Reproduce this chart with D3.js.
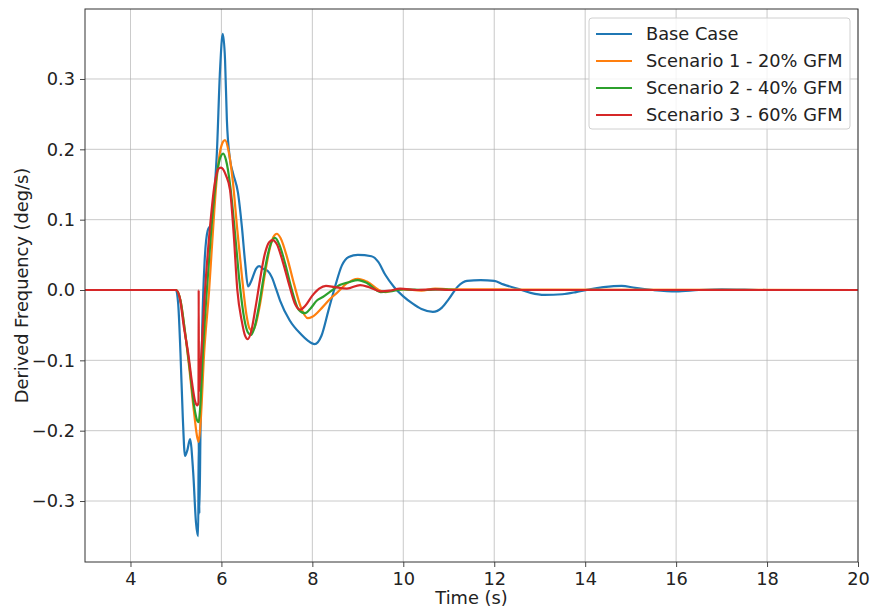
<!DOCTYPE html>
<html>
<head>
<meta charset="utf-8">
<script src="https://cdn.jsdelivr.net/npm/d3@7"></script>
<style>
  body { margin: 0; background: #fff; }
  text { font-family: "DejaVu Sans", sans-serif; fill: #222; }
</style>
</head>
<body>
<div id="chart"></div>
<script>
// data: time (s) and derived frequency (deg/s)
var base_t = [3, 5.0, 5.05, 5.1, 5.15, 5.2, 5.25, 5.31, 5.38, 5.44, 5.49, 5.50, 5.515, 5.54, 5.58, 5.63, 5.70, 5.76, 5.815, 5.86, 5.90, 5.97, 6.03, 6.08, 6.12, 6.19, 6.255, 6.365, 6.45, 6.52, 6.585, 6.67, 6.76, 6.83, 6.92, 7.02, 7.11, 7.2, 7.29, 7.5, 7.75, 7.9, 8.05, 8.2, 8.35, 8.5, 8.65, 8.8, 9.0, 9.3, 9.45, 9.6, 9.8, 10.0, 10.2, 10.4, 10.65, 10.85, 11.0, 11.2, 11.4, 11.7, 12.0, 12.2, 12.5, 12.8, 13.1, 13.5, 13.8, 14.1, 14.4, 14.8, 15.1, 15.5, 16.0, 16.5, 17.0, 17.5, 18.0, 20];
var base_v = [0, 0, -0.02, -0.09, -0.18, -0.236, -0.228, -0.212, -0.26, -0.33, -0.350, -0.212, -0.318, -0.20, -0.05, 0.04, 0.085, 0.092, 0.104, 0.15, 0.195, 0.313, 0.364, 0.327, 0.242, 0.185, 0.166, 0.138, 0.09, 0.04, 0.005, 0.015, 0.03, 0.034, 0.03, 0.027, 0.018, 0.002, -0.015, -0.043, -0.063, -0.072, -0.077, -0.065, -0.03, 0.005, 0.035, 0.047, 0.05, 0.048, 0.04, 0.022, 0.004, -0.009, -0.019, -0.027, -0.031, -0.025, -0.013, 0.005, 0.013, 0.014, 0.013, 0.008, 0.002, -0.004, -0.007, -0.006, -0.003, 0.001, 0.004, 0.006, 0.003, 0.0, -0.002, 0, 0.001, 0.0005, 0, 0];

var s1_t = [3, 5.0, 5.1, 5.2, 5.3, 5.4, 5.47, 5.5, 5.54, 5.62, 5.73, 5.8, 5.9, 6.0, 6.08, 6.15, 6.25, 6.35, 6.45, 6.55, 6.62, 6.68, 6.75, 6.85, 6.95, 7.05, 7.14, 7.22, 7.3, 7.45, 7.6, 7.75, 7.9, 8.0, 8.23, 8.4, 8.54, 8.75, 9.0, 9.2, 9.5, 9.6, 9.8, 10.0, 10.4, 10.7, 11.0, 20];
var s1_v = [0, 0, -0.015, -0.06, -0.115, -0.175, -0.21, -0.216, -0.19, -0.09, 0.0, 0.07, 0.16, 0.205, 0.213, 0.2, 0.155, 0.085, 0.02, -0.035, -0.055, -0.058, -0.05, -0.02, 0.02, 0.055, 0.075, 0.080, 0.074, 0.045, 0.008, -0.025, -0.040, -0.038, -0.024, -0.012, -0.004, 0.009, 0.016, 0.012, -0.001, -0.003, 0.0, 0.001, -0.001, 0.002, 0.001, 0];

var s2_t = [3, 5.0, 5.1, 5.2, 5.3, 5.4, 5.47, 5.5, 5.53, 5.6, 5.68, 5.77, 5.87, 5.96, 6.04, 6.1, 6.2, 6.3, 6.4, 6.5, 6.58, 6.65, 6.72, 6.82, 6.92, 7.02, 7.1, 7.18, 7.27, 7.4, 7.55, 7.7, 7.84, 7.95, 8.1, 8.23, 8.4, 8.6, 8.8, 9.0, 9.2, 9.5, 9.7, 10.0, 10.5, 10.8, 11.2, 20];
var s2_v = [0, 0, -0.015, -0.06, -0.11, -0.165, -0.186, -0.188, -0.17, -0.08, 0.0, 0.08, 0.15, 0.185, 0.194, 0.185, 0.145, 0.08, 0.01, -0.04, -0.06, -0.064, -0.055, -0.025, 0.015, 0.05, 0.068, 0.074, 0.065, 0.038, 0.0, -0.028, -0.033, -0.027, -0.015, -0.01, -0.002, 0.007, 0.011, 0.014, 0.01, -0.003, -0.002, 0.001, 0.0, 0.001, 0, 0];

var s3_t = [3, 5.0, 5.08, 5.18, 5.27, 5.35, 5.42, 5.47, 5.496, 5.50, 5.505, 5.55, 5.64, 5.75, 5.85, 5.93, 5.99, 6.1, 6.19, 6.27, 6.35, 6.45, 6.52, 6.58, 6.65, 6.75, 6.85, 6.95, 7.05, 7.13, 7.22, 7.35, 7.5, 7.62, 7.73, 7.85, 8.0, 8.15, 8.3, 8.5, 8.76, 9.05, 9.25, 9.5, 9.7, 9.93, 10.3, 10.7, 11.0, 20];
var s3_v = [0, 0, -0.01, -0.055, -0.09, -0.13, -0.158, -0.164, -0.16, 0.0, -0.145, -0.10, 0.0, 0.09, 0.15, 0.172, 0.174, 0.163, 0.142, 0.08, 0.0, -0.045, -0.065, -0.07, -0.06, -0.025, 0.015, 0.05, 0.068, 0.071, 0.065, 0.04, 0.005, -0.02, -0.028, -0.022, -0.008, 0.002, 0.006, 0.004, 0.002, 0.007, 0.004, -0.002, -0.001, 0.002, 0.0, 0.001, 0, 0];

var series_names = ["Base Case", "Scenario 1 - 20% GFM", "Scenario 2 - 40% GFM", "Scenario 3 - 60% GFM"];
var series_colors = ["#1f77b4", "#ff7f0e", "#2ca02c", "#d62728"];
var x_ticks = [4, 6, 8, 10, 12, 14, 16, 18, 20];
var y_ticks = [-0.3, -0.2, -0.1, 0.0, 0.1, 0.2, 0.3];

var w = 873, h = 609;
var m_left = 85, m_right = 858, m_top = 9, m_bottom = 562;
var fs = 17.8;

var svg = d3.select("#chart").append("svg")
  .attr("width", w).attr("height", h);

var x = d3.scaleLinear().domain([3, 20]).range([m_left, m_right]);
var y = d3.scaleLinear().domain([-0.3867, 0.3995]).range([m_bottom, m_top]);

// grid
svg.append("g").selectAll("line").data(x_ticks).enter().append("line")
  .attr("x1", function(d){return x(d);}).attr("x2", function(d){return x(d);})
  .attr("y1", m_top).attr("y2", m_bottom)
  .attr("stroke", "#b0b0b0").attr("stroke-width", 0.9).attr("opacity", 0.75);
svg.append("g").selectAll("line").data(y_ticks).enter().append("line")
  .attr("y1", function(d){return y(d);}).attr("y2", function(d){return y(d);})
  .attr("x1", m_left).attr("x2", m_right)
  .attr("stroke", "#b0b0b0").attr("stroke-width", 0.9).attr("opacity", 0.75);

// lines
svg.append("clipPath").attr("id", "clip").append("rect")
  .attr("x", m_left).attr("y", m_top).attr("width", m_right - m_left).attr("height", m_bottom - m_top);

var all_t = [base_t, s1_t, s2_t, s3_t];
var all_v = [base_v, s1_v, s2_v, s3_v];
var line = d3.line()
  .x(function(d){return x(d[0]);})
  .y(function(d){return y(d[1]);})
  .curve(d3.curveMonotoneX);

var plot = svg.append("g").attr("clip-path", "url(#clip)");
for (var i = 0; i < 4; i++) {
  var pts = all_t[i].map(function(t, j){return [t, all_v[i][j]];});
  plot.append("path").datum(pts)
    .attr("d", line)
    .attr("fill", "none")
    .attr("stroke", series_colors[i])
    .attr("stroke-width", 2.2)
    .attr("stroke-linejoin", "round");
}

// axes
var xAxis = d3.axisBottom(x).tickValues(x_ticks).tickSize(5).tickPadding(5)
  .tickFormat(d3.format("d"));
var yAxis = d3.axisLeft(y).tickValues(y_ticks).tickSize(5).tickPadding(5)
  .tickFormat(function(d){return d3.format(".1f")(d).replace("-", "\u2212");});

var gx = svg.append("g").attr("transform", "translate(0," + m_bottom + ")").call(xAxis);
var gy = svg.append("g").attr("transform", "translate(" + m_left + ",0)").call(yAxis);
[gx, gy].forEach(function(g){
  g.select(".domain").remove();
  g.selectAll("line").attr("stroke", "#333").attr("stroke-width", 0.9);
  g.selectAll("text").attr("font-size", fs).attr("fill", "#222")
    .attr("font-family", "DejaVu Sans, sans-serif");
});

// frame
svg.append("rect").attr("x", m_left).attr("y", m_top)
  .attr("width", m_right - m_left).attr("height", m_bottom - m_top)
  .attr("fill", "none").attr("stroke", "#333").attr("stroke-width", 1);

// axis labels
svg.append("text").attr("x", (m_left + m_right) / 2).attr("y", 604)
  .attr("text-anchor", "middle").attr("font-size", fs).text("Time (s)");
svg.append("text")
  .attr("transform", "translate(28," + ((m_top + m_bottom) / 2) + ") rotate(-90)")
  .attr("text-anchor", "middle").attr("font-size", fs).text("Derived Frequency (deg/s)");

// legend
var lg = svg.append("g").attr("transform", "translate(589,18)");
lg.append("rect").attr("width", 261).attr("height", 111).attr("rx", 3)
  .attr("fill", "white").attr("fill-opacity", 0.8)
  .attr("stroke", "#d0d0d0").attr("stroke-width", 1);
series_names.forEach(function(n, i){
  var yy = 16 + i * 27;
  lg.append("line").attr("x1", 7).attr("x2", 43).attr("y1", yy).attr("y2", yy)
    .attr("stroke", series_colors[i]).attr("stroke-width", 2.2);
  lg.append("text").attr("x", 57).attr("y", yy + 6).attr("font-size", fs).text(n);
});
</script>
</body>
</html>
